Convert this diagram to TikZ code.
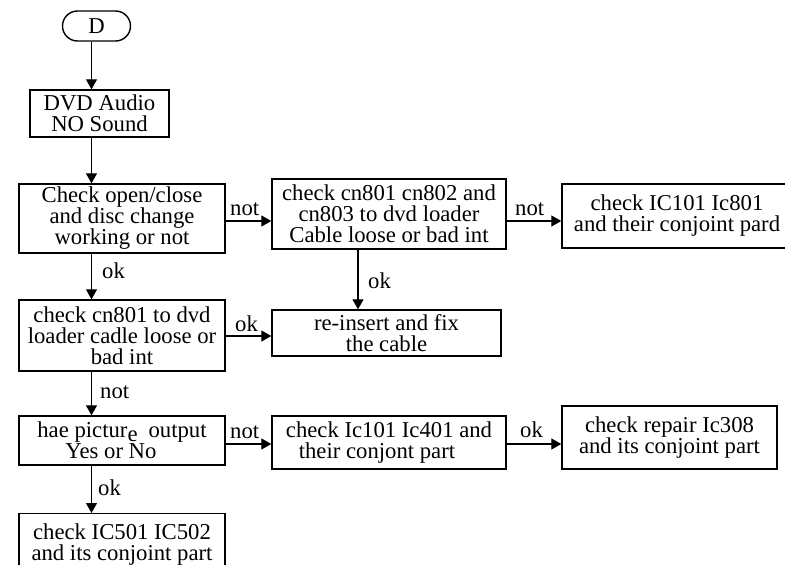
\documentclass[tikz,border=0pt]{standalone}
\usepackage{fontspec}
\setmainfont{Liberation Serif}
\usetikzlibrary{arrows.meta}
\newcommand{\boxfont}{\fontsize{22.7}{21}\selectfont}
\begin{document}
\begin{tikzpicture}[x=1pt,y=-1pt,
  box/.style={draw, line width=1.4pt, inner sep=0pt, align=center, font=\boxfont},
  term/.style={box, rounded corners=15pt},
  arr/.style={-{Triangle[length=10pt,width=11pt]}, line width=1.3pt},
  lab/.style={anchor=base west, inner sep=0pt, font=\boxfont}]
\clip (0,0) rectangle (785,565);
\fill[white] (0,0) rectangle (785,565);
% nodes
\node[term, minimum width=68pt, minimum height=30pt] (D) at (96.5,26) {D};
\node[box, minimum width=139pt, minimum height=47pt] (A) at (99.5,113.5) {DVD Audio\\NO Sound};
\node[box, minimum width=206pt, minimum height=69pt] (B) at (122,218.5) {Check open/close\\and disc change\\working or not};
\node[box, minimum width=234pt, minimum height=70pt] (C) at (389,214) {check cn801 cn802 and\\cn803 to dvd loader\\Cable loose or bad int};
\node[box, minimum width=230pt, minimum height=64pt] (E) at (677,216) {check IC101 Ic801\\and their conjoint pard};
\node[box, minimum width=206pt, minimum height=71pt] (F) at (122,335.5) {check cn801 to dvd\\loader cadle loose or\\bad int};
\node[box, minimum width=229pt, minimum height=46pt] (G) at (386.5,333) {re-insert and fix\\the cable};
\node[box, minimum width=206pt, minimum height=49pt] (H) at (122,440.5) {hae pictur\raisebox{-4pt}{e}\hspace{11pt}output\\Yes or No\hspace*{22pt}};
\node[box, minimum width=234pt, minimum height=53pt] (I) at (389,442.5) {check Ic101 Ic401 and\\their conjont part\hspace*{24pt}};
\node[box, minimum width=215pt, minimum height=63pt] (J) at (669.5,437.5) {check repair Ic308\\and its conjoint part};
\node[box, minimum width=206pt, minimum height=61pt, anchor=north] (K) at (122,513) {check IC501 IC502\\and its conjoint part};
% helper coordinates
\coordinate (cL) at (91.5,0);
\coordinate (cM) at (358,0);
\coordinate (r1) at (0,221);
\coordinate (r2) at (0,336);
\coordinate (r3) at (0,444);
% connectors
\draw[arr] (D.south -| cL) -- (A.north -| cL);
\draw[arr] (A.south -| cL) -- (B.north -| cL);
\draw[arr] (B.east |- r1) -- (C.west |- r1);
\draw[arr] (C.east |- r1) -- (E.west |- r1);
\draw[arr] (B.south -| cL) -- (F.north -| cL);
\draw[arr] (C.south -| cM) -- (G.north -| cM);
\draw[arr] (F.east |- r2) -- (G.west |- r2);
\draw[arr] (F.south -| cL) -- (H.north -| cL);
\draw[arr] (H.east |- r3) -- (I.west |- r3);
\draw[arr] (I.east |- r3) -- (J.west |- r3);
\draw[arr] (H.south -| cL) -- (K.north -| cL);
% labels
\node[lab] (nB) at (230,215) {not};
\node[lab] (nC) at (515,215) {not};
\node[lab] (oB) at (102,278) {ok};
\node[lab] (oC) at (368,288) {ok};
\node[lab] (oF) at (235,331) {ok};
\node[lab] (nF) at (100,398) {not};
\node[lab] (nH) at (230,438) {not};
\node[lab] (oI) at (520,437) {ok};
\node[lab] (oH) at (98,495) {ok};
\end{tikzpicture}
\end{document}
